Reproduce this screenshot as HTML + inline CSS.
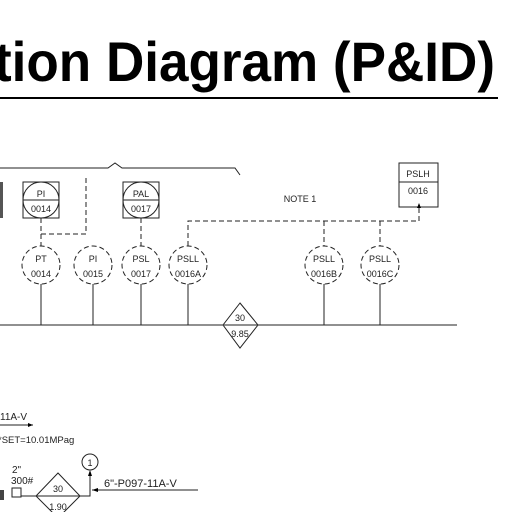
<!DOCTYPE html>
<html><head><meta charset="utf-8"><style>
html,body{margin:0;padding:0;background:#fff;width:512px;height:512px;overflow:hidden}
</style></head><body>
<svg width="512" height="512" viewBox="0 0 512 512" xmlns="http://www.w3.org/2000/svg">
<text x="-6" y="81" font-family="Liberation Sans, sans-serif" font-weight="bold" font-size="56" fill="#000" textLength="501" lengthAdjust="spacingAndGlyphs">tion Diagram (P&amp;ID)</text>
<line x1="0" y1="98" x2="498" y2="98" stroke="#000" stroke-width="2"/>
<g fill="none" stroke="#222" stroke-width="1">
<polyline points="0,168 108,168 115,163 122,168 235,168 240,175"/>
<rect x="23" y="182" width="36" height="36"/><circle cx="41" cy="200" r="18"/><line x1="23" y1="200" x2="59" y2="200"/>
<rect x="123" y="182" width="36" height="36"/><circle cx="141" cy="200" r="18"/><line x1="123" y1="200" x2="159" y2="200"/>
<rect x="399" y="163" width="39" height="44"/><line x1="399" y1="182" x2="438" y2="182"/>
<g stroke-dasharray="5,3">
<polyline points="41,218 41,234 86,234 86,178"/>
<line x1="41" y1="234" x2="41" y2="246"/>
<line x1="141" y1="218" x2="141" y2="246"/>
<polyline points="188,246 188,221 419,221 419,208"/>
<line x1="324" y1="221" x2="324" y2="246"/>
<line x1="380" y1="221" x2="380" y2="246"/>
<circle cx="41" cy="265" r="19"/><circle cx="93" cy="265" r="19"/><circle cx="141" cy="265" r="19"/><circle cx="188" cy="265" r="19"/><circle cx="324" cy="265" r="19"/><circle cx="380" cy="265" r="19"/>
</g>
<line x1="41" y1="284" x2="41" y2="325"/><line x1="93" y1="284" x2="93" y2="325"/><line x1="141" y1="284" x2="141" y2="325"/><line x1="188" y1="284" x2="188" y2="325"/><line x1="324" y1="284" x2="324" y2="325"/><line x1="380" y1="284" x2="380" y2="325"/>
<line x1="0" y1="325" x2="457" y2="325"/>
<polygon points="240,303 258,325 240,348 223,325" fill="#fff"/>
<line x1="224" y1="325" x2="257" y2="325"/>
<line x1="0" y1="425" x2="33" y2="425"/>
<rect x="12" y="488" width="9" height="9"/><line x1="21" y1="496" x2="36" y2="496"/>
<polygon points="58,473 80,496 58,518 36,496"/><line x1="37" y1="496" x2="79" y2="496"/>
<polyline points="80,496 90,496 90,472"/>
<circle cx="90" cy="462" r="8"/>
<line x1="92" y1="490" x2="198" y2="490"/>
</g>
<rect x="0" y="182" width="3" height="36" fill="#555"/>
<rect x="0" y="490" width="4" height="10" fill="#444"/>
<path d="M419,203 l-2,5 h4z M33,425 l-5,-2 v4z M90,470 l-2,6 h4z M92,490 l6,-2 v4z" fill="#000"/>
<g font-family="Liberation Sans, sans-serif" font-size="9" fill="#222" text-anchor="middle">
<text x="41" y="197">PI</text><text x="41" y="212">0014</text>
<text x="141" y="197">PAL</text><text x="141" y="212">0017</text>
<text x="418" y="177">PSLH</text><text x="418" y="194">0016</text>
<text x="41" y="262">PT</text><text x="41" y="277">0014</text>
<text x="93" y="262">PI</text><text x="93" y="277">0015</text>
<text x="141" y="262">PSL</text><text x="141" y="277">0017</text>
<text x="188" y="262">PSLL</text><text x="188" y="277">0016A</text>
<text x="324" y="262">PSLL</text><text x="324" y="277">0016B</text>
<text x="380" y="262">PSLL</text><text x="380" y="277">0016C</text>
<text x="240" y="321">30</text><text x="240" y="337">9.85</text>
<text x="58" y="492">30</text><text x="58" y="510">1.90</text>
<text x="90" y="466">1</text>
<text x="300" y="202">NOTE 1</text>
</g>
<g font-family="Liberation Sans, sans-serif" font-size="10" fill="#222">
<text x="0" y="420">11A-V</text>
<text x="-2" y="443" font-size="9.5">*SET=10.01MPag</text>
<text x="12" y="473" font-size="10">2"</text>
<text x="11" y="484" font-size="10">300#</text>
<text x="104" y="487" font-size="11">6"-P097-11A-V</text>
</g>
</svg>
</body></html>
